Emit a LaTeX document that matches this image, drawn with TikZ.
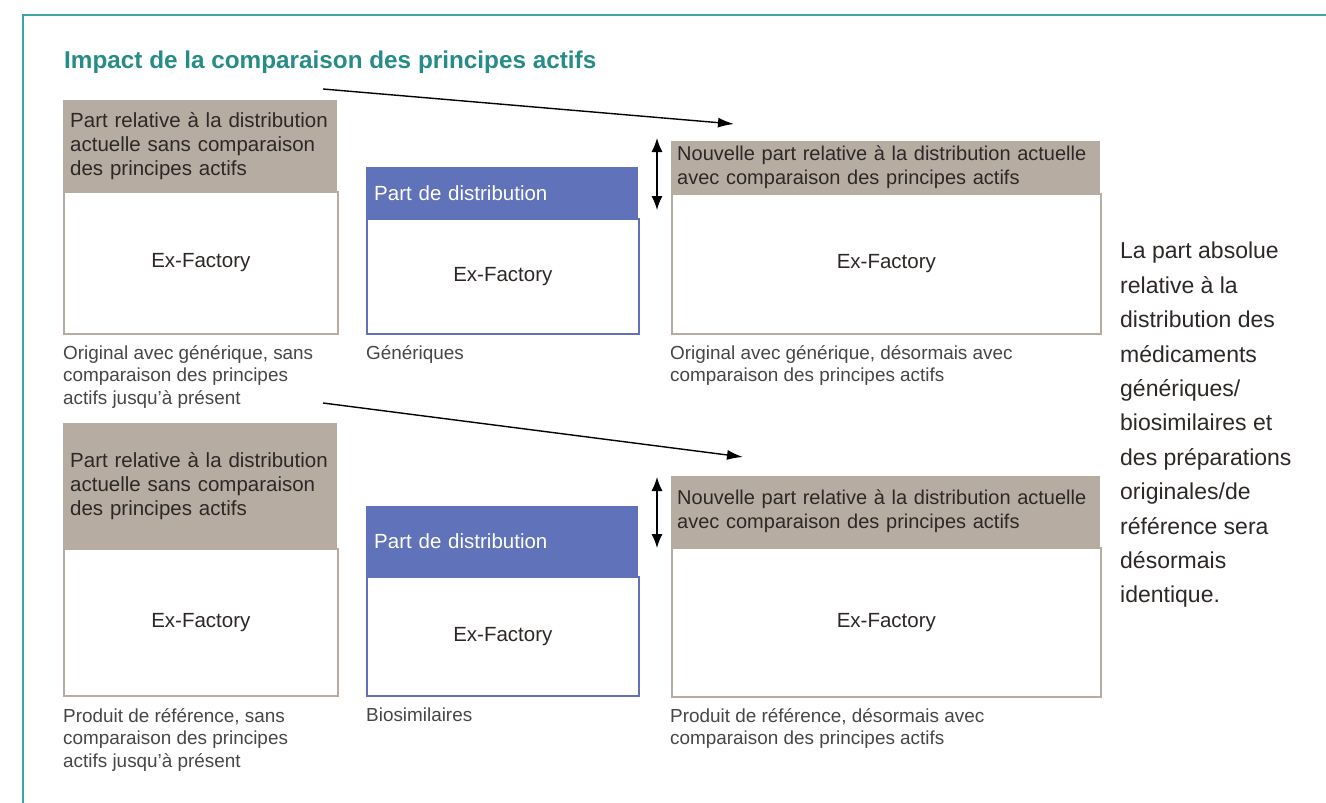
\documentclass[tikz,border=0pt]{standalone}
\usepackage{xcolor}
\usepackage{fontspec}
\usepackage{tikz}
\usetikzlibrary{arrows.meta}
\setmainfont{Liberation Sans}

\definecolor{tealline}{RGB}{60,165,165}
\definecolor{tealtitle}{RGB}{38,140,135}
\definecolor{tanhd}{RGB}{183,172,162}
\definecolor{bluehd}{RGB}{96,114,185}
\definecolor{txtdark}{RGB}{45,40,38}
\definecolor{txtgrey}{RGB}{70,70,70}

\newcommand{\boxfont}{\fontsize{20.5}{24}\selectfont}
\newcommand{\capfont}{\fontsize{18.9}{22.5}\selectfont}

\begin{document}
\begin{tikzpicture}[x=1pt, y=-1pt,
    hdr/.style={anchor=north west, fill=tanhd, inner xsep=7pt, inner ysep=0pt,
        align=left, font=\boxfont, text=txtdark},
    widehdr/.style={hdr, inner xsep=6pt, text width=417pt,
        font=\fontsize{20}{24}\selectfont},
    bluehdr/.style={hdr, fill=bluehd, inner xsep=8pt, text=white},
    body/.style={anchor=north west, draw=tanhd, line width=1.6pt, fill=white,
        font=\boxfont, text=txtdark},
    bluebody/.style={body, draw=bluehd},
    caption/.style={anchor=north west, inner sep=0pt, align=left,
        font=\capfont, text=txtgrey},
    arr/.style={draw, line width=1.4pt, -{Latex[length=16pt,width=10pt]}},
    darr/.style={draw, line width=1.4pt, {Latex[length=14pt,width=11pt]}-{Latex[length=14pt,width=11pt]}}]
    \useasboundingbox (0,0) rectangle (1326,803);

    % open frame, top and left side only
    \draw[tealline, line width=2pt] (23,803) -- (23,15) -- (1326,15);
    \node[anchor=base west, inner sep=0pt, font=\fontsize{24.3}{28}\selectfont\bfseries,
        text=tealtitle] (title) at (64,68) {Impact de la comparaison des principes actifs};

    % upper row
    \node[body, minimum width=274pt, minimum height=142pt] (b1) at (63,191) {Ex-Factory};
    \node[hdr, text width=260pt, minimum height=91pt] (h1) at (63,100)
        {Part relative à la distribution\\actuelle sans comparaison\\des principes actifs};
    \node[bluebody, minimum width=272pt, minimum height=115pt] (b2) at (366,218) {Ex-Factory};
    \node[bluehdr, text width=256pt, minimum height=51pt] (h2) at (366,167) {Part de distribution};
    \node[body, minimum width=429pt, minimum height=140pt] (b3) at (671,193) {Ex-Factory};
    \node[widehdr, minimum height=52pt] (h3) at (671,141)
        {Nouvelle part relative à la distribution actuelle\\avec comparaison des principes actifs};

    \node[caption] (c1) at (63,345)
        {Original avec générique, sans\\comparaison des principes\\actifs jusqu'à présent};
    \node[caption] (c2) at (366,345) {Génériques};
    \node[caption] (c3) at (670,345)
        {Original avec générique, désormais avec\\comparaison des principes actifs};

    % lower row
    \node[body, minimum width=274pt, minimum height=147pt] (b4) at (63,548) {Ex-Factory};
    \node[hdr, text width=260pt, minimum height=125pt] (h4) at (63,423)
        {Part relative à la distribution\\actuelle sans comparaison\\des principes actifs};
    \node[bluebody, minimum width=272pt, minimum height=119pt] (b5) at (366,576) {Ex-Factory};
    \node[bluehdr, text width=256pt, minimum height=70pt] (h5) at (366,506) {Part de distribution};
    \node[body, minimum width=429pt, minimum height=149pt] (b6) at (671,547) {Ex-Factory};
    \node[widehdr, minimum height=71pt] (h6) at (671,476)
        {Nouvelle part relative à la distribution actuelle\\avec comparaison des principes actifs};

    \node[caption] (c4) at (63,708)
        {Produit de référence, sans\\comparaison des principes\\actifs jusqu'à présent};
    \node[caption] (c5) at (366,708) {Biosimilaires};
    \node[caption] (c6) at (670,708)
        {Produit de référence, désormais avec\\comparaison des principes actifs};

    % side note
    \node[anchor=north west, inner sep=0pt, align=left, text=txtdark,
        font=\fontsize{23}{34.4}\selectfont] (note) at (1120,242)
        {La part absolue\\relative à la\\distribution des\\médicaments\\génériques/\\biosimilaires et\\des préparations\\originales/de\\référence sera\\désormais\\identique.};

    % arrow ends
    \coordinate (a1s) at (323,89);
    \coordinate (a1e) at (734,124);
    \coordinate (a2s) at (323,403);
    \coordinate (a2e) at (743,457);
    \coordinate (d1t) at (657,138);
    \coordinate (d1b) at (657,210);
    \coordinate (d2t) at (657,477);
    \coordinate (d2b) at (657,548);
    \path (a1s) edge[arr] (a1e);
    \path (a2s) edge[arr] (a2e);
    \path (d1t) edge[darr] (d1b);
    \path (d2t) edge[darr] (d2b);
\end{tikzpicture}
\end{document}
